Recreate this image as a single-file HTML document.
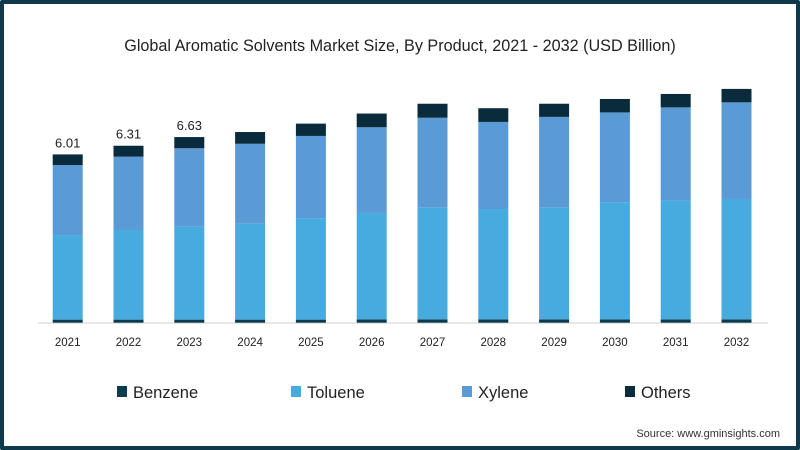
<!DOCTYPE html>
<html><head><meta charset="utf-8"><style>
body{margin:0;width:800px;height:450px;overflow:hidden;background:#fff;font-family:"Liberation Sans",sans-serif;}
#frame{position:absolute;left:0;top:0;width:792px;height:442px;border:4px solid #0e3a4c;border-radius:2px;background:#fff;}
</style></head><body>
<div id="frame"></div>
<svg id="chart" width="800" height="450" style="position:absolute;left:0;top:0">
<text x="400" y="51" text-anchor="middle" font-size="16.2" fill="#222">Global Aromatic Solvents Market Size, By Product, 2021 - 2032 (USD Billion)</text>
<line x1="38" y1="323" x2="768" y2="323" stroke="#d0d0d0" stroke-width="1"/>
<g id="bars"></g>
<g id="legend"></g>
<text x="780" y="437" text-anchor="end" font-size="11" fill="#333">Source: www.gminsights.com</text>
</svg>
<script>
const years=["2021","2022","2023","2024","2025","2026","2027","2028","2029","2030","2031","2032"];
const benzene=[0.11,0.11,0.11,0.11,0.11,0.12,0.12,0.12,0.12,0.12,0.12,0.12];
const toluene=[3.02,3.20,3.32,3.42,3.62,3.80,4.00,3.94,4.00,4.18,4.24,4.30];
const xylene=[2.50,2.62,2.80,2.86,2.94,3.06,3.20,3.11,3.23,3.21,3.33,3.45];
const others=[0.38,0.39,0.40,0.42,0.44,0.49,0.50,0.49,0.47,0.48,0.48,0.48];
const totalLabels=["6.01","6.31","6.63","","","","","","","","",""];
const seriesNames=["Benzene","Toluene","Xylene","Others"];
const colors=["#0d3b4f","#48abdf","#5b9bd5","#0a2b3b"];
const NS="http://www.w3.org/2000/svg";
const base=322.7, pxPer=28.0, x0=67.7, step=60.8, bw=30;
const yS=v=>base-v*pxPer;
const xS=i=>x0+i*step;
const series=[benzene,toluene,xylene,others];
const g=document.getElementById('bars');
years.forEach((yr,i)=>{
  let cum=0;
  series.forEach((s,k)=>{
    const r=document.createElementNS(NS,'rect');
    const top=yS(cum+s[i]), bot=yS(cum);
    r.setAttribute('x',xS(i)-bw/2);r.setAttribute('y',top);
    r.setAttribute('width',bw);r.setAttribute('height',bot-top);
    r.setAttribute('fill',colors[k]);
    
    
    g.appendChild(r);
    cum+=s[i];
  });
  if(totalLabels[i]){
    const t=document.createElementNS(NS,'text');
    t.setAttribute('x',xS(i));t.setAttribute('y',yS(cum)-7);
    t.setAttribute('text-anchor','middle');t.setAttribute('font-size','13');t.setAttribute('fill','#222');
    t.textContent=totalLabels[i];
    
    
    g.appendChild(t);
  }
  const xl=document.createElementNS(NS,'text');
  xl.setAttribute('x',xS(i));xl.setAttribute('y',346);
  xl.setAttribute('text-anchor','middle');xl.setAttribute('font-size','11.5');xl.setAttribute('fill','#222');
  xl.textContent=yr;
  
  
  g.appendChild(xl);
});
const legX=[117,291,462,625];
const lg=document.getElementById('legend');
seriesNames.forEach((n,k)=>{
  const r=document.createElementNS(NS,'rect');
  r.setAttribute('x',legX[k]);r.setAttribute('y',386);r.setAttribute('width',10);r.setAttribute('height',11);
  r.setAttribute('fill',colors[k]);
  
  
  lg.appendChild(r);
  const t=document.createElementNS(NS,'text');
  t.setAttribute('x',legX[k]+16);t.setAttribute('y',398);t.setAttribute('font-size','16.5');t.setAttribute('fill','#222');
  t.textContent=n;
  
  
  lg.appendChild(t);
});
</script>
</body></html>
